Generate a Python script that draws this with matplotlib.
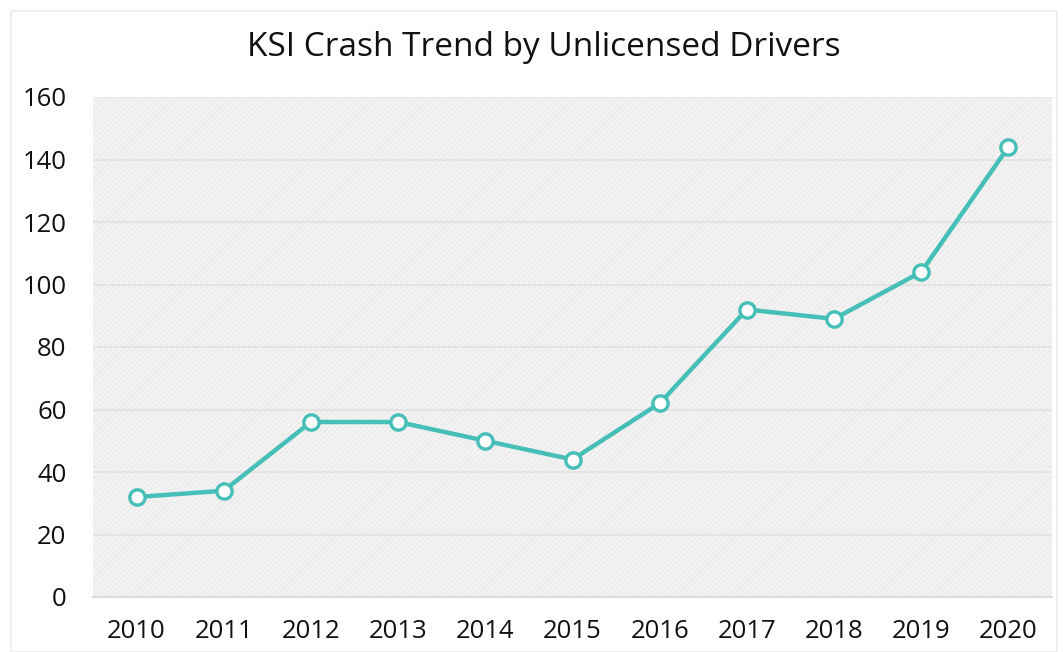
import matplotlib
matplotlib.use('Agg')
import matplotlib.pyplot as plt
from matplotlib.patches import Rectangle

years = ['2010', '2011', '2012', '2013', '2014', '2015', '2016', '2017', '2018', '2019', '2020']
ksi_crashes = [32, 34, 56, 56, 50, 44, 62, 92, 89, 104, 144]
y_ticks = [0, 20, 40, 60, 80, 100, 120, 140, 160]

plt.rcParams['font.family'] = ['Open Sans', 'DejaVu Sans']
plt.rcParams['hatch.color'] = '#eaeaea'

fig = plt.figure(figsize=(10.63, 6.52), dpi=100)
ax = fig.add_axes([93 / 1063, 1 - 597 / 652, 959 / 1063, 500 / 652])

# cadre clair autour de la figure
fig.patches.append(Rectangle((11 / 1063, 0.0), 1046 / 1063, 1 - 11 / 652,
                             transform=fig.transFigure, fill=False,
                             edgecolor='#ececec', linewidth=1.2))

# fond hachuré gris clair
ax.set_facecolor('#f3f3f3')
ax.add_patch(Rectangle((0, 0), 1, 1, transform=ax.transAxes, facecolor='none',
                       edgecolor='#ebebeb', hatch='//////', linewidth=0, zorder=0))

x = range(len(years))
ax.plot(x, ksi_crashes, color='#45BFB8', linewidth=3.2, marker='o', markersize=11,
        markerfacecolor='white', markeredgecolor='#45BFB8', markeredgewidth=2.4,
        zorder=3)

ax.set_xlim(-0.5, len(years) - 0.5)
ax.set_ylim(0, 160)
ax.set_yticks(y_ticks)
ax.set_xticks(list(x))
ax.set_xticklabels(years)
ax.grid(axis='y', color='#e2e2e2', linewidth=1.2)
ax.set_axisbelow(True)
for s in ['top', 'right', 'left']:
    ax.spines[s].set_visible(False)
ax.spines['bottom'].set_color('#dddddd')
ax.spines['bottom'].set_linewidth(1.5)
ax.tick_params(axis='both', length=0, labelsize=18.5, colors='#111111')
ax.tick_params(axis='x', pad=16)
ax.tick_params(axis='y', pad=19)

fig.text(0.512, 1 - 47 / 652, 'KSI Crash Trend by Unlicensed Drivers',
         ha='center', va='center', fontsize=24, color='#111111')

fig.savefig('out.png', dpi=100)
